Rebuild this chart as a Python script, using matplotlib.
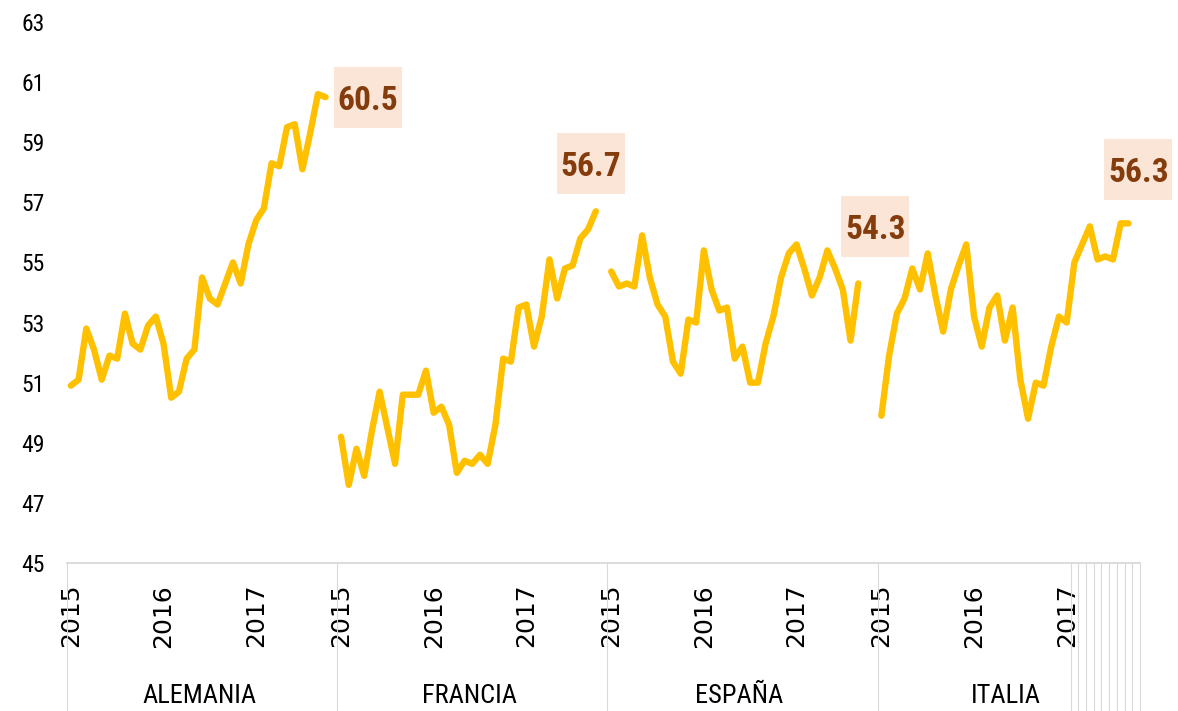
import matplotlib
matplotlib.use("Agg")
import matplotlib.pyplot as plt
from matplotlib import font_manager
from matplotlib.patches import Rectangle
from matplotlib.transforms import Affine2D
import numpy as np

# ---------------- data ----------------
countries = ["ALEMANIA", "FRANCIA", "ESPAÑA", "ITALIA"]
group_sizes = [35, 35, 35, 34]          # months per category group on the axis
year_labels = ["2015", "2016", "2017"]

alemania = [50.9, 51.1, 52.8, 52.1, 51.1, 51.9, 51.8, 53.3, 52.3, 52.1, 52.9, 53.2,
            52.3, 50.5, 50.7, 51.8, 52.1, 54.5, 53.8, 53.6, 54.3, 55.0, 54.3, 55.6,
            56.4, 56.8, 58.3, 58.2, 59.5, 59.6, 58.1, 59.3, 60.6, 60.5]
francia = [49.2, 47.6, 48.8, 47.9, 49.4, 50.7, 49.5, 48.3, 50.6, 50.6, 50.6, 51.4,
           50.0, 50.2, 49.6, 48.0, 48.4, 48.3, 48.6, 48.3, 49.6, 51.8, 51.7, 53.5,
           53.6, 52.2, 53.2, 55.1, 53.8, 54.8, 54.9, 55.8, 56.1, 56.7]
espana = [54.7, 54.2, 54.3, 54.2, 55.9, 54.5, 53.6, 53.2, 51.7, 51.3, 53.1, 53.0,
          55.4, 54.1, 53.4, 53.5, 51.8, 52.2, 51.0, 51.0, 52.3, 53.2, 54.5, 55.3,
          55.6, 54.8, 53.9, 54.5, 55.4, 54.8, 54.1, 52.4, 54.3]
italia = [49.9, 51.9, 53.3, 53.8, 54.8, 54.1, 55.3, 53.9, 52.7, 54.1, 54.9, 55.6,
          53.2, 52.2, 53.5, 53.9, 52.4, 53.5, 51.1, 49.8, 51.0, 50.9, 52.2, 53.2,
          53.0, 55.0, 55.6, 56.2, 55.1, 55.2, 55.1, 56.3, 56.3]
series = [alemania, francia, espana, italia]
end_labels = ["60.5", "56.7", "54.3", "56.3"]

# ---------------- fonts ----------------
names = {f.name for f in font_manager.fontManager.ttflist}
narrow = "Liberation Sans"
for cand in ["Liberation Sans Narrow", "Roboto Condensed", "Open Sans Condensed",
             "Noto Sans Condensed", "DejaVu Sans Condensed"]:
    if cand in names:
        narrow = cand
        break
is_narrow = narrow != "Liberation Sans"
plt.rcParams["font.family"] = [narrow, "DejaVu Sans"]

LINE = "#FFC000"
LBL_TXT = "#843C0C"
LBL_BG = "#FBE5D6"
AXIS_GRAY = "#D9D9D9"

fig = plt.figure(figsize=(11.78, 7.11), dpi=100)
ax = fig.add_axes([67 / 1178, (711 - 563) / 711, (1140 - 67) / 1178, 541 / 711])

starts = np.cumsum([0] + group_sizes[:-1])
total = sum(group_sizes)

ax.set_xlim(0, total)
ax.set_ylim(45, 63)

for s, vals in zip(starts, series):
    x = s + np.arange(len(vals)) + 0.5
    ax.plot(x, vals, color=LINE, lw=4.6, solid_joinstyle="round",
            solid_capstyle="round", zorder=3)

# end-of-series labels: box centre offset from the last point (pixels)
offsets = [(42, 0), (-5, 48), (17, 57), (10, 54)]
lbl_size = 24 if is_narrow else 22
for s, vals, lab, off in zip(starts, series, end_labels, offsets):
    xi = s + len(vals) - 1 + 0.5
    px, py = ax.transData.transform((xi, vals[-1]))
    cx, cy = px + off[0], py + off[1]
    ax.add_artist(Rectangle((-34, -30.5), 68, 61, fc=LBL_BG, ec="none",
                            transform=Affine2D().translate(cx, cy),
                            clip_on=False, zorder=4))
    ax.annotate(lab, (xi, vals[-1]), xytext=(off[0], off[1] - 13),
                textcoords="offset pixels", ha="center", va="baseline",
                fontsize=lbl_size, fontweight="bold", color=LBL_TXT,
                zorder=5, annotation_clip=False)

ax.set_yticks(np.arange(45, 64, 2))
ax.tick_params(axis="y", length=0, pad=16, labelsize=17, labelcolor="black")

# year labels at January of each year in each group
ypos, ylab = [], []
for s in starts:
    for k, yl in enumerate(year_labels):
        ypos.append(s + 12 * k + 0.5)
        ylab.append(yl)
ax.set_xticks(ypos)
ax.set_xticklabels(ylab, rotation=90, family="DejaVu Sans", fontsize=18)
ax.tick_params(axis="x", which="major", length=0, pad=15)

# group separators (plus month separators after Jan 2017 in the last group)
seps = list(starts) + [starts[-1] + 25 + k for k in range(10)]
ax.set_xticks(seps, minor=True)
ax.tick_params(axis="x", which="minor", length=108, width=0.8, color=AXIS_GRAY)

for sp in ["top", "right", "left"]:
    ax.spines[sp].set_visible(False)
ax.spines["bottom"].set_color(AXIS_GRAY)
ax.spines["bottom"].set_linewidth(1.3)

# country labels
trans = ax.get_xaxis_transform()
for s, n, c in zip(starts, group_sizes, countries):
    ax.text(s + n / 2 - 0.4, -0.245, c, transform=trans, ha="center", va="center",
            fontsize=19 if is_narrow else 16, color="black")

fig.savefig("out.png", dpi=100)
